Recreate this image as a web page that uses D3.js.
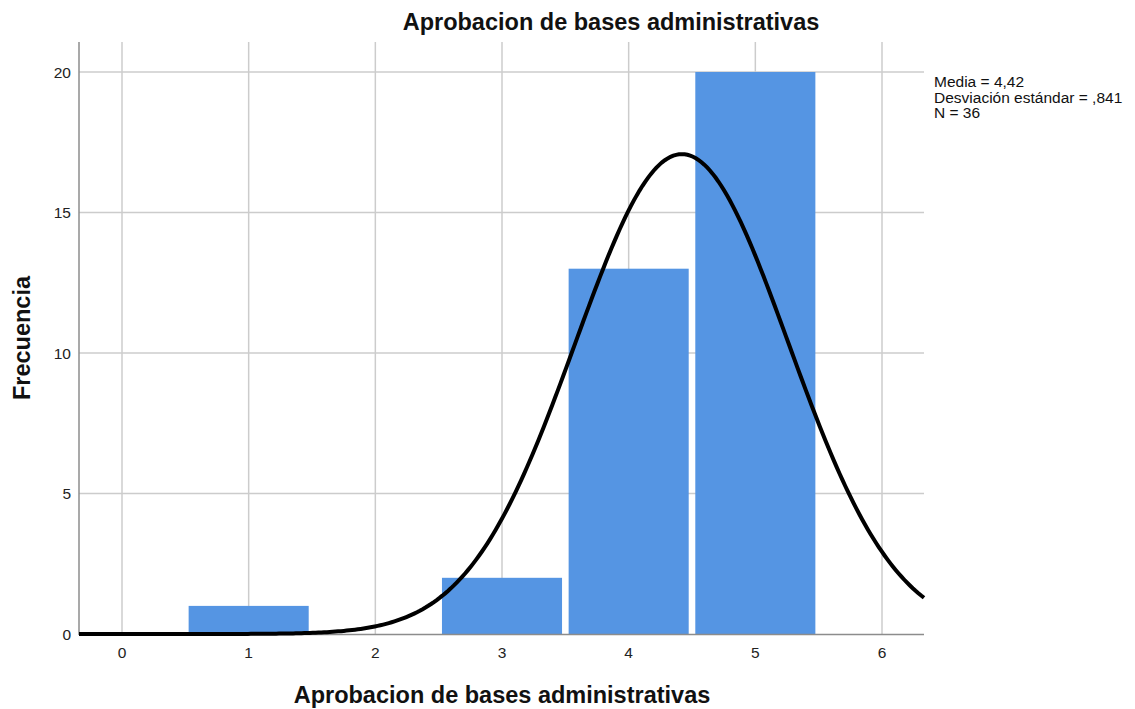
<!DOCTYPE html>
<html><head><meta charset="utf-8">
<script src="https://cdn.jsdelivr.net/npm/d3@7"></script>
<style>body{margin:0;background:#fff}svg text{font-family:"Liberation Sans",Arial,sans-serif}</style>
</head><body>
<svg id="c" width="1135" height="709"></svg>
<script>
const categories = [1, 2, 3, 4, 5];
const frequencies = [1, 0, 2, 13, 20];
const xTicks = [0, 1, 2, 3, 4, 5, 6];
const yTicks = [0, 5, 10, 15, 20];
const statsMean = 4.42, statsSD = 0.841, statsN = 36;
const statsLines = ["Media = 4,42", "Desviación estándar = ,841", "N = 36"];
const title = "Aprobacion de bases administrativas";
const xTitle = "Aprobacion de bases administrativas";
const yTitle = "Frecuencia";

(function () {
const svg = d3.select("#c");
const pLeft = 79, pRight = 924, pTop = 42, pBottom = 634;
const x = d3.scaleLinear().domain([0, 6]).range([122, 882]);
const y = d3.scaleLinear().domain([0, 20]).range([pBottom, 72]);
const xMin = x.invert(pLeft), xMax = x.invert(pRight);

// grid
svg.append("g").selectAll("line").data(xTicks).join("line")
  .attr("x1", d => x(d)).attr("x2", d => x(d)).attr("y1", pTop).attr("y2", pBottom)
  .attr("stroke", "#cccccc").attr("stroke-width", 1.5);
svg.append("g").selectAll("line").data(yTicks.filter(d => d > 0)).join("line")
  .attr("x1", pLeft).attr("x2", pRight).attr("y1", d => y(d)).attr("y2", d => y(d))
  .attr("stroke", "#cccccc").attr("stroke-width", 1.5);

// bars
const gap = 3.3;
svg.append("g").selectAll("rect").data(categories.map((c, i) => ({c, f: frequencies[i]})).filter(d => d.f > 0)).join("rect")
  .attr("x", d => x(d.c - 0.5) + gap).attr("width", d => x(d.c + 0.5) - x(d.c - 0.5) - 2 * gap)
  .attr("y", d => y(d.f)).attr("height", d => y(0) - y(d.f))
  .attr("fill", "#5595e3");

// axes lines
svg.append("line").attr("x1", pLeft).attr("x2", pLeft).attr("y1", pTop).attr("y2", pBottom + 1)
  .attr("stroke", "#8c8c8c").attr("stroke-width", 1.5);
svg.append("line").attr("x1", pLeft).attr("x2", pRight).attr("y1", pBottom + 0.5).attr("y2", pBottom + 0.5)
  .attr("stroke", "#8c8c8c").attr("stroke-width", 1.5);

// normal curve from stated stats
const pts = d3.range(0, 301).map(i => xMin + (xMax - xMin) * i / 300);
const dens = v => statsN / (statsSD * Math.sqrt(2 * Math.PI)) * Math.exp(-0.5 * Math.pow((v - statsMean) / statsSD, 2));
svg.append("path").datum(pts)
  .attr("d", d3.line().x(d => x(d)).y(d => y(dens(d))))
  .attr("fill", "none").attr("stroke", "#000").attr("stroke-width", 4);

// tick labels
svg.append("g").selectAll("text").data(xTicks).join("text")
  .attr("x", d => x(d)).attr("y", 658).attr("text-anchor", "middle")
  .attr("font-size", 15.5).attr("fill", "#222").text(d => d);
svg.append("g").selectAll("text").data(yTicks).join("text")
  .attr("x", 71).attr("y", d => y(d) + 5.5).attr("text-anchor", "end")
  .attr("font-size", 15.5).attr("fill", "#222").text(d => d);

// titles
svg.append("text").attr("x", 611).attr("y", 30).attr("text-anchor", "middle")
  .attr("font-size", 23.5).attr("font-weight", "bold").attr("fill", "#111").text(title);
svg.append("text").attr("x", 502).attr("y", 703).attr("text-anchor", "middle")
  .attr("font-size", 23.5).attr("font-weight", "bold").attr("fill", "#111").text(xTitle);
svg.append("text").attr("transform", "translate(30,338) rotate(-90)").attr("text-anchor", "middle")
  .attr("font-size", 23.5).attr("font-weight", "bold").attr("fill", "#111").text(yTitle);

// stats
svg.append("g").selectAll("text").data(statsLines).join("text")
  .attr("x", 934).attr("y", (d, i) => 87 + i * 15.5)
  .attr("font-size", 15.5).attr("fill", "#111").text(d => d);
})();
</script>
</body></html>
